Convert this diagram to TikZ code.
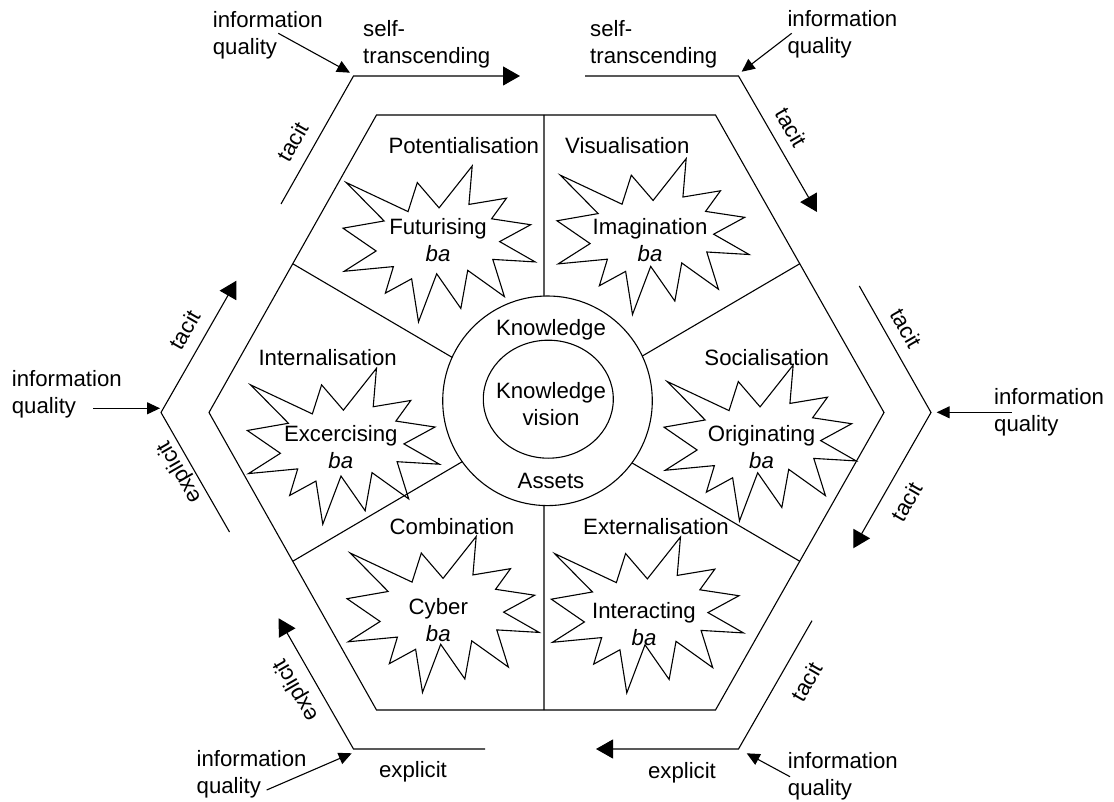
\documentclass[tikz,border=0pt]{standalone}
\usepackage{fontspec}
\setmainfont{Liberation Sans}
\usetikzlibrary{arrows.meta,calc,intersections}

\newcommand\diagfont{\fontsize{22.2pt}{27pt}\selectfont}

\tikzset{
  thin line/.style={line width=1.1pt},
  flow/.style={line width=1.1pt, -{Triangle[length=17pt,width=19pt]}},
  feed/.style={line width=1.1pt, -{Triangle[length=13pt,width=12pt]}},
  lbl/.style={inner sep=0pt, font=\diagfont},
  % two-line texts: the base anchor sits on the last line
  two/.style={lbl, align=left, anchor=base west},
  mid/.style={lbl, align=center, anchor=base},
  % Office style "explosion" outline, unit box 21600 x 21600 scaled to 192 x 156
  burst/.pic={
    \draw[line width=1.1pt, x=0.0088889pt, y=-0.0072222pt]
      (10800,5800) -- (14522,0) -- (14155,5325) -- (18380,4457) -- (16702,7315)
      -- (21097,8137) -- (17607,10475) -- (21600,13290) -- (16837,12942)
      -- (18145,18095) -- (14020,14457) -- (13247,19737) -- (10532,14935)
      -- (8485,21600) -- (7715,15627) -- (4762,17617) -- (5667,13937)
      -- (135,14587) -- (3722,11775) -- (0,8615) -- (4627,7617) -- (370,2295)
      -- (7312,6320) -- (8352,2295) -- cycle;
  }
}

\begin{document}
\begin{tikzpicture}[x=1pt, y=-1pt]
\useasboundingbox (0,0) rectangle (1114,802);

% inner hexagon
\coordinate (H0) at (884,412.5);
\coordinate (H1) at (715.5,115);
\coordinate (H2) at (376.5,115);
\coordinate (H3) at (209,412.5);
\coordinate (H4) at (376.5,710);
\coordinate (H5) at (715.5,710);
\draw[thin line] (H0) -- (H1) -- (H2) -- (H3) -- (H4) -- (H5) -- cycle;

% outer hexagon corners carrying the flow arrows
\coordinate (O0) at (931,412.5);
\coordinate (O1) at (738.5,76);
\coordinate (O2) at (353.5,76);
\coordinate (O3) at (161,412.5);
\coordinate (O4) at (353.5,749);
\coordinate (O5) at (738.5,749);

% central rings
\coordinate (rc) at (547.5,400.8);
\coordinate (hub) at (546,412.5);
\draw[thin line, name path=ring] (rc) circle[radius=104.8pt];
\draw[thin line] (548.3,399.2) ellipse[x radius=65pt, y radius=59pt];

% sector dividers
\coordinate (vt) at (544,115);
\coordinate (vb) at (544,710);
\coordinate (m23) at ($(H2)!0.5!(H3)$);
\coordinate (m01) at ($(H0)!0.5!(H1)$);
\coordinate (m34) at ($(H3)!0.5!(H4)$);
\coordinate (m50) at ($(H5)!0.5!(H0)$);
\path[name path=s1] (vt) -- (vt |- hub);
\path[name path=s2] (vb) -- (vb |- hub);
\path[name path=s3] (m23) -- (hub);
\path[name path=s4] (m01) -- (hub);
\path[name path=s5] (m34) -- (hub);
\path[name path=s6] (m50) -- (hub);
\draw[thin line, name intersections={of=ring and s1, by=e1}] (vt) -- (e1);
\draw[thin line, name intersections={of=ring and s2, by=e2}] (vb) -- (e2);
\draw[thin line, name intersections={of=ring and s3, by=e3}] (m23) -- (e3);
\draw[thin line, name intersections={of=ring and s4, by=e4}] (m01) -- (e4);
\draw[thin line, name intersections={of=ring and s5, by=e5}] (m34) -- (e5);
\draw[thin line, name intersections={of=ring and s6, by=e6}] (m50) -- (e6);

% centre texts
\node[mid] (kn) at (551,336) {Knowledge};
\node[mid] (kv) at (551,425) {Knowledge\\vision};
\node[mid] (ka) at (551,488) {Assets};

% ba bursts
\pic at (343,166) {burst};
\pic at (557,158.6) {burst};
\pic at (247.3,368.3) {burst};
\pic at (664,365) {burst};
\pic at (347,536.5) {burst};
\pic at (551.3,537) {burst};

\node[mid] (b1) at (438,261.7) {Futurising\\\textit{ba}};
\node[mid] (b2) at (650,262) {Imagination\\\textit{ba}};
\node[mid] (b3) at (340.8,468.7) {Excercising\\\textit{ba}};
\node[mid] (b4) at (761.5,468.7) {Originating\\\textit{ba}};
\node[mid] (b5) at (438.3,641.7) {Cyber\\\textit{ba}};
\node[mid] (b6) at (644,645) {Interacting\\\textit{ba}};

% sector names
\node[lbl, anchor=base west] (p1) at (388.3,153.3) {Potentialisation};
\node[lbl, anchor=base west] (p2) at (565,153.3) {Visualisation};
\node[lbl, anchor=base west] (p3) at (258.3,366) {Internalisation};
\node[lbl, anchor=base east] (p4) at (829.3,365.7) {Socialisation};
\node[lbl, anchor=base] (p5) at (452,534) {Combination};
\node[lbl, anchor=base] (p6) at (656,534) {Externalisation};

% flow arrows around the hexagon
\coordinate (tl1) at (281,204);   \coordinate (tl2) at (520,76);
\coordinate (tr1) at (585,76);    \coordinate (tr2) at (817,212);
\coordinate (r1)  at (859.3,286); \coordinate (r2)  at (853.3,548.3);
\coordinate (br1) at (812,620.7); \coordinate (br2) at (596,749);
\coordinate (bl1) at (485,749);   \coordinate (bl2) at (278.7,618.3);
\coordinate (l1)  at (229.5,532); \coordinate (l2)  at (236.4,280.7);
\draw[flow] (tl1) -- (O2) -- (tl2);
\draw[flow] (tr1) -- (O1) -- (tr2);
\draw[flow] (r1) -- (O0) -- (r2);
\draw[flow] (br1) -- (O5) -- (br2);
\draw[flow] (bl1) -- (O4) -- (bl2);
\draw[flow] (l1) -- (O3) -- (l2);

% flow labels
\node[two] (st1) at (363,63.3) {self-\\transcending};
\node[two] (st2) at (590,63.3) {self-\\transcending};
\node[lbl, rotate=60]  (t1) at (292.5,141.7) {tacit};
\node[lbl, rotate=-60] (t2) at (791.7,127.5) {tacit};
\node[lbl, rotate=-60] (t3) at (906.7,328.3) {tacit};
\node[lbl, rotate=60]  (t4) at (906.7,501.7) {tacit};
\node[lbl, rotate=60]  (t5) at (806.7,681.7) {tacit};
\node[lbl, rotate=60]  (t6) at (185,330) {tacit};
\node[lbl, rotate=120] (x1) at (180,472) {explicit};
\node[lbl, rotate=120] (x2) at (296.7,690) {explicit};
\node[lbl, anchor=base] (x3) at (413,777) {explicit};
\node[lbl, anchor=base] (x4) at (682,778) {explicit};

% information quality inputs
\node[two] (iq1) at (212.7,54.3) {information\\quality};
\node[two] (iq2) at (787.3,53.5) {information\\quality};
\node[two] (iq3) at (11.7,413.5) {information\\quality};
\node[two] (iq4) at (994,431.5) {information\\quality};
\node[two] (iq5) at (196.5,793.5) {information\\quality};
\node[two] (iq6) at (787.7,795) {information\\quality};

\coordinate (f1) at (278.3,33.3);  \coordinate (g1) at (350,72.7);
\coordinate (f2) at (791.7,33.3);  \coordinate (g2) at (741.7,71.7);
\coordinate (f3) at (93.3,408.3);  \coordinate (g3) at (160,408.3);
\coordinate (f4) at (1011.7,412.3);\coordinate (g4) at (936.7,412.3);
\coordinate (f5) at (266.7,790);   \coordinate (g5) at (351.7,753.3);
\coordinate (f6) at (790,776.7);   \coordinate (g6) at (746.7,753.3);
\draw[feed] (f1) -- (g1);
\draw[feed] (f2) -- (g2);
\draw[feed] (f3) -- (g3);
\draw[feed] (f4) -- (g4);
\draw[feed] (f5) -- (g5);
\draw[feed] (f6) -- (g6);
\end{tikzpicture}
\end{document}
